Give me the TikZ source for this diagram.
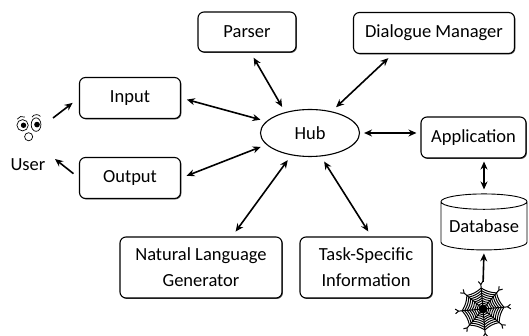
\documentclass[tikz,border=0pt]{standalone}
\usepackage{fontspec}
\setmainfont{Carlito}
\usetikzlibrary{arrows.meta,shapes.geometric,shadows}

\tikzset{
  box/.style={draw, rounded corners=6pt, line width=1.1pt, inner sep=0pt,
    align=center, fill=white,
    drop shadow={shadow xshift=0.9pt, shadow yshift=-0.9pt, opacity=0.7, fill=black}},
  link/.style={{Stealth[length=8pt,width=7pt]}-{Stealth[length=8pt,width=7pt]},
    line width=1.6pt, shorten <=6pt, shorten >=6pt},
  feed/.style={-{Stealth[length=8pt,width=7pt]}, line width=1.6pt},
}

\begin{document}
\begin{tikzpicture}[x=10pt,y=10pt,
    every node/.style={font=\fontsize{18.5}{26}\selectfont}]
   \useasboundingbox (0,0) rectangle (52.9,33.6);
   % modules round the hub
   \node[draw, ellipse, line width=1.1pt, minimum width=99pt, minimum height=47pt,
     inner sep=0pt] (hub) at (31.0,20.3) {Hub};
   \node[box, minimum width=98pt, minimum height=40pt] (parser) at (24.7,30.4) {Parser};
   \node[box, minimum width=161pt, minimum height=41pt] (dm) at (43.4,30.3) {Dialogue Manager};
   \node[box, minimum width=101pt, minimum height=41pt] (in) at (13.0,23.8) {Input};
   \node[box, minimum width=101pt, minimum height=41pt] (out) at (13.0,15.8) {Output};
   \node[box, minimum width=105pt, minimum height=41pt] (app) at (47.35,19.85) {Application};
   \node[box, minimum width=162pt, minimum height=61pt] (nlg) at (20.1,6.85) {Natural Language\\Generator};
   \node[box, minimum width=132pt, minimum height=61pt] (tsi) at (36.6,6.85) {Task-Specific\\Information};
   \node[draw, cylinder, shape border rotate=90, aspect=0.22, line width=0.9pt,
     minimum width=86pt, minimum height=56pt, inner sep=0pt] (db) at (48.4,11.0) {Database};

   % the user
   \node (user) at (2.8,17.1) {User};
   \begin{scope}[shift={(3.0,20.6)}, scale=1.35, line width=0.7pt]
     \draw (-0.55,0.35) circle (0.42);
     \draw (0.45,0.4) ellipse (0.36 and 0.5);
     \fill (-0.48,0.35) circle (0.2);
     \fill (0.52,0.4) circle (0.21);
     \draw (-0.1,-0.5) circle (0.3);
     \draw (-0.95,0.8) arc (150:60:0.42);
     \draw (0.15,0.95) arc (150:40:0.38);
   \end{scope}
   \coordinate (usr-in) at (5.3,21.8);
   \coordinate (usr-out) at (5.5,17.7);

   % web feeding the database
   \node[minimum size=46pt, inner sep=0pt] (web) at (48.3,2.7) {};
   \begin{scope}[shift={(web.center)}, line width=1pt]
     \foreach \a in {5,50,95,140,185,230,275,320}
       \draw (0,0) -- (\a:2.45) -- ++(\a+35:0.4) (\a:2.45) -- ++(\a-35:0.4);
     \foreach \r in {0.35,0.6,0.85,1.1,1.35,1.6,1.85,2.1}
       \draw (5:\r) \foreach \a in {50,95,140,185,230,275,320,365} { to[bend left=14] (\a:\r) };
     \fill (0,0) circle (0.45);
   \end{scope}

   % connectors
   \draw[link] (parser.-80) -- (hub.140);
   \draw[link] (dm.207) -- (hub.45);
   \draw[link] (in.east) -- (hub.165);
   \draw[link] (out.east) -- (hub.195);
   \draw[link] (nlg.45) -- (hub.230);
   \draw[link] (tsi.80) -- (hub.295);
   \draw[link, shorten <=4pt, shorten >=4pt] (hub.east) -- (hub.east -| app.west);
   \draw[link, shorten <=3pt, shorten >=4pt] (db.north |- app.south) -- (db.north);
   \draw[feed, shorten <=4pt, shorten >=3pt] (web.north) -- (db.south);
   \draw[feed, shorten >=8pt] (usr-in) -- (in.west);
   \draw[feed, shorten <=7pt] (out.west) -- (usr-out);
\end{tikzpicture}
\end{document}
